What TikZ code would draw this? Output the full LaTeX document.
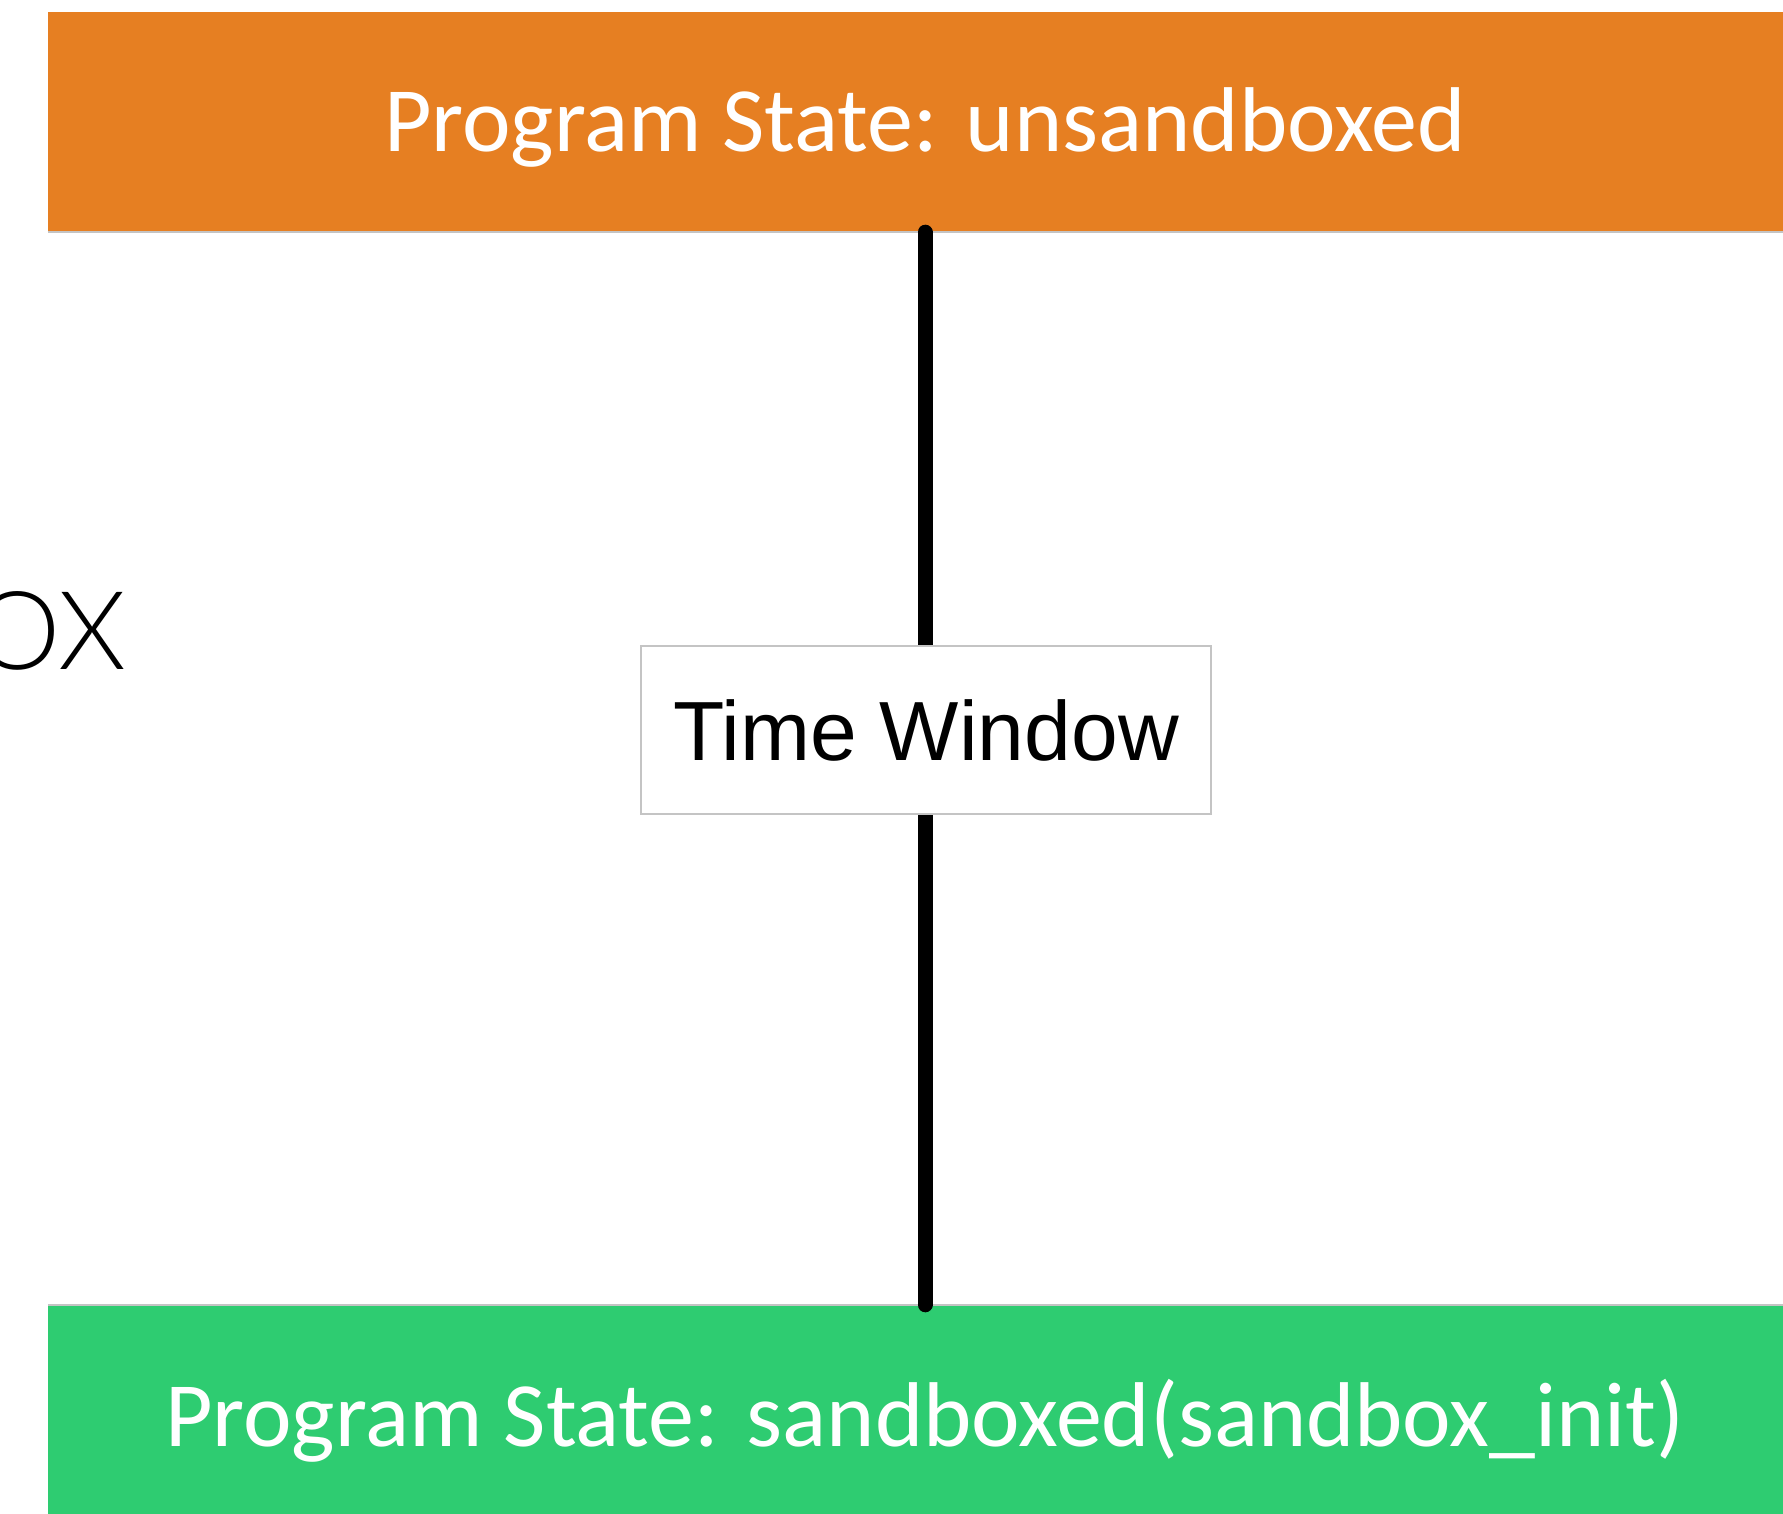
\documentclass[tikz,border=0pt]{standalone}
\usepackage{fontspec}
\setmainfont{Carlito}
\newfontfamily\helvfont{Liberation Sans}
\newfontfamily\lightfont{Lato Light}
\definecolor{barorange}{HTML}{E67F22}
\definecolor{bargreen}{HTML}{2ECC71}
\definecolor{edgegray}{HTML}{C4C4C4}
\tikzset{
  statebar/.style={minimum width=1754pt, inner sep=0pt,
    text=white, font=\fontsize{92}{92}\selectfont, text height=59pt, text depth=0pt},
  baredge/.style={draw=edgegray, line width=1.5pt},
  wire/.style={line width=15pt, line cap=round, black},
  windowbox/.style={draw=edgegray, line width=1.5pt, fill=white, minimum width=570pt,
    minimum height=168pt, inner sep=0pt, font=\helvfont\fontsize{84}{84}\selectfont,
    text height=60pt, text depth=0pt},
}
\begin{document}
\begin{tikzpicture}[x=1pt,y=-1pt]
\useasboundingbox (0,0) rectangle (1783,1514);
% state bars
\node[statebar, fill=barorange, minimum height=220pt] (unsb) at (925,122) {Program State: unsandboxed};
\node[statebar, fill=bargreen, minimum height=224pt] (sb) at (925,1417) {Program State: sandboxed(sandbox\_init)};
\draw[baredge] (unsb.south west) -- (unsb.south east);
\draw[baredge] (sb.north west) -- (sb.north east);
% transition line with the time window on it
\draw[wire] (unsb.south) -- (sb.north);
\node[windowbox] (tw) at (926,730) {Time Window};
% side caption, running off the left edge
\node[anchor=base east, inner sep=0pt, font=\lightfont\fontsize{109}{109}\selectfont] (side) at (126,669) {OX};
\end{tikzpicture}
\end{document}
